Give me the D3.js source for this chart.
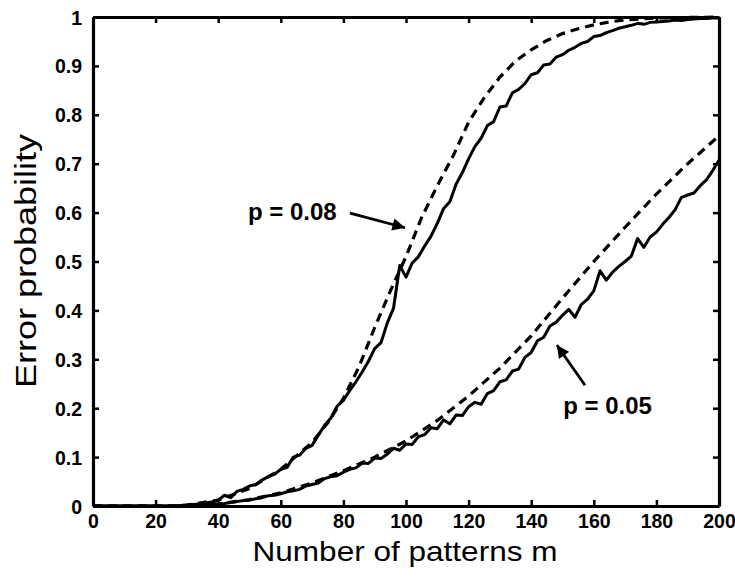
<!DOCTYPE html>
<html>
<head>
<meta charset="utf-8">
<script src="https://cdn.jsdelivr.net/npm/d3@7.9.0/dist/d3.min.js"></script>
<style>
  body { margin: 0; background: #fff; }
  svg { display: block; font-family: "Liberation Sans", Arial, Helvetica, sans-serif; }
</style>
</head>
<body>
<svg id="chart" width="735" height="578"></svg>
<script>
// simulated error probability (solid, jagged) sampled every 2 patterns
const mSim = [
  0, 2, 4, 6, 8, 10, 12, 14, 16, 18, 20, 22, 24, 26, 28, 30, 32, 34, 36, 38,
  40, 42, 44, 46, 48, 50, 52, 54, 56, 58, 60, 62, 64, 66, 68, 70, 72, 74, 76, 78,
  80, 82, 84, 86, 88, 90, 92, 94, 96, 98, 100, 102, 104, 106, 108, 110, 112, 114, 116, 118,
  120, 122, 124, 126, 128, 130, 132, 134, 136, 138, 140, 142, 144, 146, 148, 150, 152, 154, 156, 158,
  160, 162, 164, 166, 168, 170, 172, 174, 176, 178, 180, 182, 184, 186, 188, 190, 192, 194, 196, 198, 200
];
const simP08 = [
  0, 0, 0, 0, 0, 0, 0, 0, 0, 0, 0, 0, 0, 0, 0.001, 0.002, 0.003, 0.004, 0.006, 0.008,
  0.012, 0.022, 0.017, 0.03, 0.034, 0.041, 0.044, 0.053, 0.06, 0.065, 0.075, 0.079, 0.1, 0.104, 0.118, 0.124, 0.145, 0.165, 0.18, 0.204,
  0.216, 0.236, 0.254, 0.274, 0.296, 0.322, 0.334, 0.374, 0.404, 0.492, 0.468, 0.497, 0.51, 0.532, 0.552, 0.578, 0.608, 0.622, 0.658, 0.682,
  0.71, 0.735, 0.752, 0.778, 0.786, 0.816, 0.818, 0.845, 0.852, 0.864, 0.882, 0.886, 0.902, 0.904, 0.918, 0.923, 0.932, 0.938, 0.946, 0.95,
  0.96, 0.962, 0.968, 0.972, 0.977, 0.98, 0.983, 0.987, 0.985, 0.989, 0.99, 0.991, 0.992, 0.994, 0.993, 0.995, 0.996, 0.997, 0.997, 0.998, 0.998
];
const simP05 = [
  0, 0, 0, 0, 0, 0, 0, 0, 0, 0, 0, 0, 0, 0, 0, 0.001, 0.001, 0.002, 0.002, 0.003,
  0.004, 0.005, 0.007, 0.009, 0.011, 0.012, 0.015, 0.017, 0.021, 0.022, 0.025, 0.029, 0.031, 0.034, 0.041, 0.044, 0.047, 0.056, 0.06, 0.062,
  0.069, 0.075, 0.078, 0.088, 0.087, 0.098, 0.097, 0.106, 0.118, 0.114, 0.127, 0.126, 0.142, 0.146, 0.16, 0.158, 0.176, 0.168, 0.186, 0.185,
  0.203, 0.212, 0.208, 0.23, 0.236, 0.254, 0.258, 0.276, 0.28, 0.304, 0.314, 0.338, 0.345, 0.368, 0.376, 0.39, 0.402, 0.386, 0.412, 0.423,
  0.44, 0.481, 0.462, 0.478, 0.49, 0.5, 0.511, 0.547, 0.529, 0.55, 0.56, 0.576, 0.59, 0.606, 0.631, 0.636, 0.64, 0.655, 0.667, 0.686, 0.707
];

// theoretical curves (dashed)
const mTheoP08 = [0, 25, 30, 40, 50, 60, 70, 75, 80, 85, 90, 95, 100, 105, 110, 115, 120, 125, 130, 135, 140, 145, 150, 155, 160, 165, 170, 180, 190, 200];
const theoP08 = [0, 0, 0.002, 0.012, 0.036, 0.075, 0.13, 0.17, 0.22, 0.285, 0.365, 0.44, 0.51, 0.59, 0.655, 0.715, 0.785, 0.835, 0.877, 0.91, 0.933, 0.952, 0.966, 0.976, 0.984, 0.99, 0.994, 0.998, 0.999, 1];
const mTheoP05 = [0, 25, 30, 40, 50, 60, 70, 80, 90, 100, 110, 120, 130, 140, 150, 160, 170, 180, 190, 200];
const theoP05 = [0, 0, 0.001, 0.004, 0.013, 0.027, 0.047, 0.072, 0.1, 0.133, 0.175, 0.225, 0.282, 0.348, 0.425, 0.5, 0.57, 0.638, 0.7, 0.757];

const xTicks = [0, 20, 40, 60, 80, 100, 120, 140, 160, 180, 200];
const yTicks = [0, 0.1, 0.2, 0.3, 0.4, 0.5, 0.6, 0.7, 0.8, 0.9, 1];

const margin = { top: 17, right: 16, bottom: 72, left: 93 };
const W = 735, H = 578;
const svg = d3.select("#chart");

const x = d3.scaleLinear().domain([0, 200]).range([margin.left, W - margin.right]);
const y = d3.scaleLinear().domain([0, 1]).range([H - margin.bottom, margin.top]);

const line = d3.line().x(d => x(d[0])).y(d => y(d[1]));

// curves
const simSeries = [d3.zip(mSim, simP08), d3.zip(mSim, simP05)];
const theoSeries = [d3.zip(mTheoP08, theoP08), d3.zip(mTheoP05, theoP05)];

svg.append("g").selectAll("path")
  .data(theoSeries)
  .enter().append("path")
  .attr("d", line)
  .attr("fill", "none")
  .attr("stroke", "#000")
  .attr("stroke-width", 3.2)
  .attr("stroke-dasharray", "9,6");

svg.append("g").selectAll("path")
  .data(simSeries)
  .enter().append("path")
  .attr("d", line)
  .attr("fill", "none")
  .attr("stroke", "#000")
  .attr("stroke-width", 3)
  .attr("stroke-linejoin", "round");

// axes, ticks pointing inward like matlab
const tickLen = 6;
const fmt = d => d3.format("~g")(d);

const gx = svg.append("g").attr("transform", `translate(0,${y(0)})`)
  .call(d3.axisBottom(x).tickValues(xTicks).tickFormat(fmt).tickSizeInner(-tickLen).tickSizeOuter(0).tickPadding(tickLen + 4));
const gxTop = svg.append("g").attr("transform", `translate(0,${y(1)})`)
  .call(d3.axisTop(x).tickValues(xTicks).tickFormat("").tickSizeInner(-tickLen).tickSizeOuter(0));
const gy = svg.append("g").attr("transform", `translate(${x(0)},0)`)
  .call(d3.axisLeft(y).tickValues(yTicks).tickFormat(fmt).tickSizeInner(-tickLen).tickSizeOuter(0).tickPadding(tickLen + 5));
const gyRight = svg.append("g").attr("transform", `translate(${x(200)},0)`)
  .call(d3.axisRight(y).tickValues(yTicks).tickFormat("").tickSizeInner(-tickLen).tickSizeOuter(0));

[gx, gxTop, gy, gyRight].forEach(g => {
  g.select(".domain").attr("stroke", "#000").attr("stroke-width", 3.2);
  g.selectAll(".tick line").attr("stroke", "#000").attr("stroke-width", 2.5);
  g.selectAll(".tick text")
    .attr("fill", "#000")
    .attr("font-size", 19.5)
    .attr("font-weight", "bold")
    .attr("font-family", "'Liberation Sans', Arial, sans-serif");
});
gy.selectAll(".tick text").attr("dy", "0.36em");
gx.selectAll(".tick text").attr("dy", "0.6em");

// axis labels (scanned glyphs run wide, so stretch to the measured length)
svg.append("text")
  .attr("x", 405)
  .attr("y", 561)
  .attr("text-anchor", "middle")
  .attr("font-size", 28)
  .attr("textLength", 305)
  .attr("lengthAdjust", "spacingAndGlyphs")
  .text("Number of patterns m");

svg.append("text")
  .attr("transform", `translate(36,261) rotate(-90)`)
  .attr("text-anchor", "middle")
  .attr("font-size", 29)
  .attr("textLength", 254)
  .attr("lengthAdjust", "spacingAndGlyphs")
  .text("Error probability");

// annotations
svg.append("defs").append("marker")
  .attr("id", "head")
  .attr("viewBox", "0 0 10 10")
  .attr("refX", 10).attr("refY", 5)
  .attr("markerWidth", 5).attr("markerHeight", 4.5)
  .attr("markerUnits", "strokeWidth")
  .attr("orient", "auto")
  .append("path").attr("d", "M0,0L10,5L0,10Z").attr("fill", "#000");

const notes = [
  { label: "p = 0.08", tx: 49.5, ty: 0.585, from: [82.1, 0.599], to: [99.7, 0.569] },
  { label: "p = 0.05", tx: 150.2, ty: 0.188, from: [157.2, 0.247], to: [148.2, 0.329] }
];

svg.append("g").selectAll("text")
  .data(notes)
  .enter().append("text")
  .attr("x", d => x(d.tx))
  .attr("y", d => y(d.ty))
  .attr("font-size", 24)
  .attr("font-weight", "bold")
  .text(d => d.label);

svg.append("g").selectAll("line")
  .data(notes)
  .enter().append("line")
  .attr("x1", d => x(d.from[0])).attr("y1", d => y(d.from[1]))
  .attr("x2", d => x(d.to[0])).attr("y2", d => y(d.to[1]))
  .attr("stroke", "#000")
  .attr("stroke-width", 2.8)
  .attr("marker-end", "url(#head)");
</script>
</body>
</html>
